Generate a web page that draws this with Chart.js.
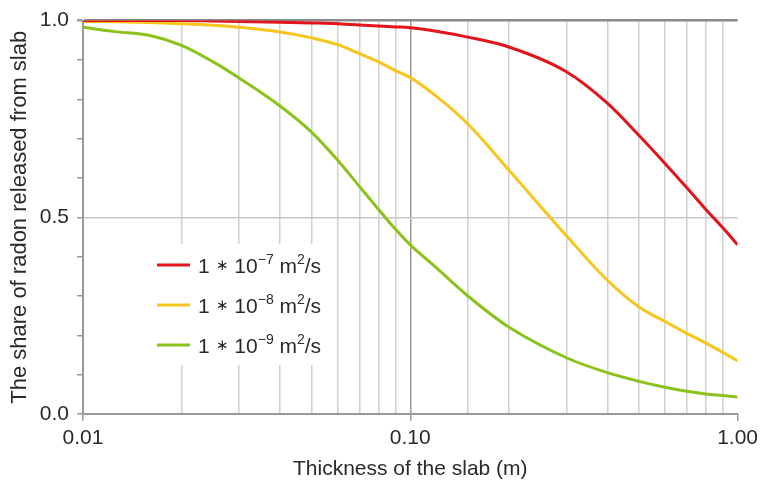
<!DOCTYPE html>
<html>
<head>
<meta charset="utf-8">
<script src="https://cdn.jsdelivr.net/npm/chart.js@4/dist/chart.umd.min.js"></script>
<style>
  html, body { margin: 0; padding: 0; background: #fff; }
  #wrap { width: 763px; height: 488px; }
</style>
</head>
<body>
<div id="wrap"><canvas id="c" width="763" height="488"></canvas></div>
<script>
// thickness of the slab (m), shared x values
var thickness = [0.01, 0.0125, 0.016, 0.02, 0.025, 0.03, 0.04, 0.05, 0.06, 0.07, 0.08, 0.09, 0.1,
                 0.12, 0.15, 0.2, 0.3, 0.4, 0.5, 0.6, 0.7, 0.8, 0.9, 1.0];

// share of radon released, one list per diffusion coefficient
var share_e7 = [1.0, 1.0, 1.0, 1.0, 0.999, 0.998, 0.996, 0.994, 0.992, 0.989, 0.986, 0.984, 0.982,
                0.973, 0.958, 0.933, 0.87, 0.79, 0.708, 0.637, 0.575, 0.52, 0.474, 0.43];
var share_e8 = [0.998, 0.997, 0.995, 0.992, 0.988, 0.983, 0.971, 0.956, 0.939, 0.916, 0.895, 0.873, 0.855,
                0.808, 0.737, 0.62, 0.453, 0.34, 0.272, 0.235, 0.205, 0.18, 0.157, 0.135];
var share_e9 = [0.983, 0.972, 0.962, 0.937, 0.895, 0.854, 0.783, 0.716, 0.645, 0.578, 0.52, 0.47, 0.43,
                0.372, 0.30, 0.221, 0.143, 0.105, 0.083, 0.068, 0.058, 0.051, 0.047, 0.043];

var seriesExp = ['7', '8', '9'];
var seriesColors = ['#e3141b', '#f8c51c', '#8cc21c'];

var xTitle = 'Thickness of the slab (m)';
var yTitle = 'The share of radon released from slab';

var FONT = "'Liberation Sans', Arial, sans-serif";
var TEXT = '#2a2a2a';

function pts(ys) {
  return thickness.map(function (x, i) { return { x: x, y: ys[i] }; });
}

function isDecade(v) {
  var l = Math.log10(v);
  return Math.abs(l - Math.round(l)) < 1e-9;
}

// legend drawn inside the plot, on a white box
var innerLegend = {
  id: 'innerLegend',
  beforeDatasetsDraw: function (chart) {
    var ctx = chart.ctx;
    ctx.save();
    ctx.fillStyle = '#fff';
    ctx.fillRect(140, 244, 190, 121);
    var rowY = [265, 305, 345];
    for (var i = 0; i < 3; i++) {
      var y = rowY[i];
      ctx.strokeStyle = seriesColors[i];
      ctx.lineWidth = 3;
      ctx.beginPath();
      ctx.moveTo(157, y);
      ctx.lineTo(190, y);
      ctx.stroke();
      drawRich(ctx, 198, y + 8, [
        { t: '1 ' }, { t: '\u2217', small: true }, { t: ' 10' },
        { t: '\u2212' + seriesExp[i], sup: true }, { t: ' m' }, { t: '2', sup: true }, { t: '/s' }
      ]);
    }
    ctx.restore();
  }
};

function drawRich(ctx, x, y, parts) {
  ctx.fillStyle = TEXT;
  ctx.textBaseline = 'alphabetic';
  ctx.textAlign = 'left';
  parts.forEach(function (p) {
    var size = p.sup ? 14 : (p.small ? 15 : 21);
    var dy = p.sup ? -9 : (p.small ? -3 : 0);
    ctx.font = size + 'px ' + FONT;
    ctx.fillText(p.t, x, y + dy);
    x += ctx.measureText(p.t).width;
  });
}

new Chart(document.getElementById('c'), {
  type: 'line',
  data: {
    datasets: [
      { data: pts(share_e7), borderColor: seriesColors[0] },
      { data: pts(share_e8), borderColor: seriesColors[1] },
      { data: pts(share_e9), borderColor: seriesColors[2] }
    ]
  },
  options: {
    responsive: false,
    animation: false,
    layout: { padding: { left: 0, right: 22, top: 15, bottom: 0 } },
    elements: {
      point: { radius: 0 },
      line: { borderWidth: 3, cubicInterpolationMode: 'monotone' }
    },
    plugins: { legend: { display: false }, tooltip: { enabled: false } },
    scales: {
      x: {
        type: 'logarithmic',
        min: 0.01,
        max: 1,
        afterFit: function (s) { s.height = 74; },
        border: { color: '#999', width: 2 },
        grid: {
          color: function (c) {
            var v = c.tick && c.tick.value;
            if (v === undefined) return 'transparent';
            if (Math.abs(v - 1) < 1e-9) return 'transparent';
            return isDecade(v) ? '#9a9a9a' : '#d0d0d0';
          },
          lineWidth: 1.5,
          tickLength: 7,
          tickColor: function (c) {
            var v = c.tick && c.tick.value;
            return v !== undefined && isDecade(v) ? '#9a9a9a' : 'transparent';
          }
        },
        ticks: {
          autoSkip: false,
          maxRotation: 0,
          padding: 5,
          color: TEXT,
          font: { family: FONT, size: 21 },
          callback: function (v) { return isDecade(v) ? Number(v).toFixed(2) : ''; }
        },
        title: {
          display: true,
          text: xTitle,
          color: TEXT,
          font: { family: FONT, size: 21 },
          padding: { top: 0, bottom: 6 }
        }
      },
      y: {
        min: 0,
        max: 1,
        afterFit: function (s) { s.width = 83; },
        border: { color: '#999', width: 2 },
        grid: {
          color: function (c) {
            var v = c.tick && c.tick.value;
            if (v === undefined) return 'transparent';
            if (Math.abs(v - 1) < 1e-6) return '#8a8a8a';
            if (Math.abs(v - 0.5) < 1e-6) return '#c8c8c8';
            return 'transparent';
          },
          lineWidth: function (c) {
            var v = c.tick && c.tick.value;
            return v !== undefined && Math.abs(v - 1) < 1e-6 ? 2.5 : 1.5;
          },
          tickLength: 6,
          tickColor: '#999'
        },
        ticks: {
          stepSize: 0.1,
          autoSkip: false,
          padding: 8,
          color: TEXT,
          font: { family: FONT, size: 21 },
          callback: function (v) {
            return Math.abs(v * 2 - Math.round(v * 2)) < 1e-6 ? Number(v).toFixed(1) : '';
          }
        },
        title: {
          display: true,
          text: yTitle,
          color: TEXT,
          font: { family: FONT, size: 22 },
          padding: { top: 7, bottom: 0 }
        }
      }
    }
  },
  plugins: [innerLegend]
});
</script>
</body>
</html>
